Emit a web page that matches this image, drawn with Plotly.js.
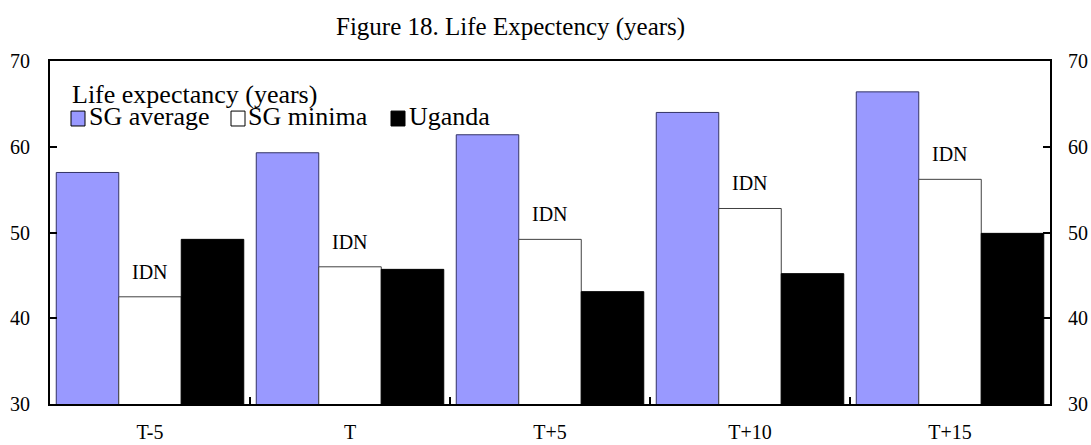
<!DOCTYPE html>
<html>
<head>
<meta charset="utf-8">
<script src="https://cdn.plot.ly/plotly-3.0.1.min.js"></script>
<style>html,body{margin:0;padding:0;background:#fff;}#chart{width:1091px;height:445px;}</style>
</head>
<body>
<div id="chart"></div>
<script>
const categories = ["T-5", "T", "T+5", "T+10", "T+15"];
const sgAverage = [57.0, 59.3, 61.4, 64.0, 66.4];
const sgMinima = [42.5, 46.0, 49.2, 52.8, 56.2];
const uganda = [49.2, 45.7, 43.1, 45.2, 49.9];
const minimaLabels = ["IDN", "IDN", "IDN", "IDN", "IDN"];
const seriesNames = ["SG average", "SG minima", "Uganda"];
const legendTitle = "Life expectancy (years)";
const chartTitle = "Figure 18. Life Expectency (years)";
const yTicks = [30, 40, 50, 60, 70];

const FONT = "Liberation Serif, Times New Roman, serif";
const colors = ["#9999FF", "#FFFFFF", "#000000"];
const lineColors = ["#333366", "#404040", "#000000"];
const seriesValues = [sgAverage, sgMinima, uganda];

const traces = seriesValues.map((vals, i) => ({
  type: "bar",
  name: seriesNames[i],
  x: categories,
  y: vals,
  marker: {color: colors[i], line: {color: lineColors[i], width: 1}},
  showlegend: false,
  hoverinfo: "x+y+name"
}));
// invisible trace to activate the right axis
traces.push({type: "scatter", x: categories, y: sgAverage, yaxis: "y2", mode: "none", showlegend: false, hoverinfo: "skip"});

const annotations = categories.map((c, i) => ({
  x: c, y: sgMinima[i], xref: "x", yref: "y",
  text: minimaLabels[i], showarrow: false,
  yanchor: "bottom", yshift: 12,
  font: {family: FONT, size: 20, color: "#000"}
}));

// legend built from text + swatches
const legX = [0.021, 0.181, 0.341];
const legTextX = [0.037, 0.196, 0.357];
annotations.push({
  xref: "paper", yref: "paper", x: 0.020, y: 0.903, xanchor: "left", yanchor: "middle",
  text: legendTitle, showarrow: false, font: {family: FONT, size: 26, color: "#000"}
});
seriesNames.forEach((n, i) => annotations.push({
  xref: "paper", yref: "paper", x: legTextX[i], y: 0.838, xanchor: "left", yanchor: "middle",
  text: n, showarrow: false, font: {family: FONT, size: 26, color: "#000"}
}));
const shapes = seriesNames.map((n, i) => ({
  type: "rect", xref: "paper", yref: "paper",
  x0: legX[i], x1: legX[i] + 0.014, y0: 0.8105, y1: 0.854,
  fillcolor: colors[i], line: {color: "#000", width: 1}
}));

const axisFont = {family: FONT, size: 20, color: "#000"};
const layout = {
  width: 1091, height: 445,
  margin: {l: 50, r: 41, t: 61, b: 41, pad: 0},
  paper_bgcolor: "#fff", plot_bgcolor: "#fff",
  title: {text: chartTitle, font: {family: FONT, size: 25, color: "#000"},
          xref: "container", x: 0.468, xanchor: "center", yref: "container", y: 0.9416, yanchor: "middle"},
  barmode: "group", bargap: 0.0625, bargroupgap: 0,
  xaxis: {
    type: "category", tickson: "boundaries", ticks: "inside", ticklen: 7, tickwidth: 2, tickcolor: "#000",
    showline: true, linecolor: "#000", linewidth: 2, mirror: true, showgrid: false, zeroline: false,
    tickfont: axisFont, ticklabelstandoff: 9
  },
  yaxis: {
    range: [30, 70], tickvals: yTicks, ticks: "inside", ticklen: 7, tickwidth: 2, tickcolor: "#000",
    showline: true, linecolor: "#000", linewidth: 2, showgrid: false, zeroline: false,
    tickfont: axisFont, ticklabelstandoff: 14
  },
  yaxis2: {
    range: [30, 70], tickvals: yTicks, overlaying: "y", side: "right", ticks: "inside", ticklen: 7, tickwidth: 2, tickcolor: "#000",
    showline: true, linecolor: "#000", linewidth: 2, showgrid: false, zeroline: false,
    tickfont: axisFont, ticklabelstandoff: 12
  },
  annotations: annotations,
  shapes: shapes,
  showlegend: false
};
Plotly.newPlot("chart", traces, layout, {displayModeBar: false, staticPlot: true});
</script>
</body>
</html>
